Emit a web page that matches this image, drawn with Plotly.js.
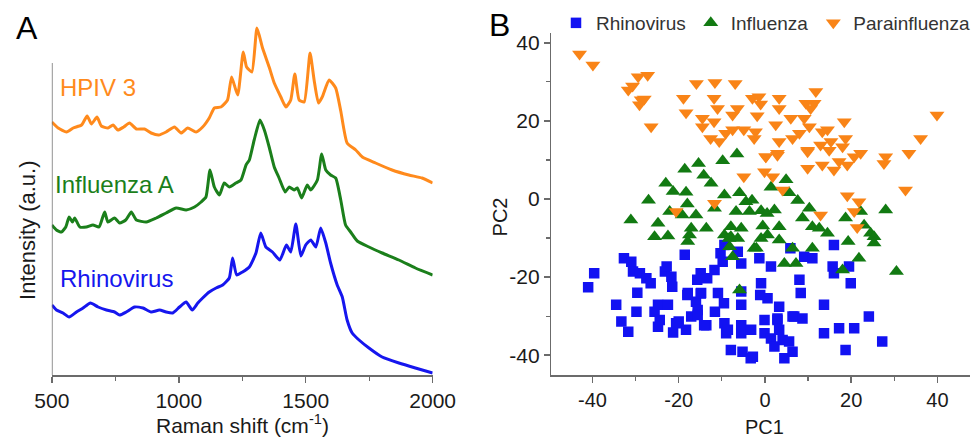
<!DOCTYPE html>
<html>
<head>
<meta charset="utf-8">
<script src="https://cdn.plot.ly/plotly-3.0.1.min.js"></script>
<style>html,body{margin:0;padding:0;background:#fff;}#chart{width:975px;height:438px;}</style>
</head>
<body>
<div id="chart"></div>
<script>
// ---------- Panel A: Raman spectra (stacked, arbitrary units) ----------
const hpivX = [500,525,558,584,617,639,656,678,695,721,741,760,783,806,833,865,891,921,950,983,1009,1035,1068,1094,1120,1140,1166,1192,1208,1232,1254,1267,1288,1308,1330,1356,1376,1402,1422,1441,1457,1474,1494,1517,1533,1550,1565,1592,1618,1638,1663,1697,1723,1775,1840,1906,1958,2000];
const hpivY = [253,247,243,247,250,259,251,258,249,247,250,245,248,252,246,246,242,240,243,248,242,247,243,248,257,267,268,275,298,280,323,308,303,347,327,308,292,278,268,275,301,275,273,322,295,272,278,295,287,264,232,225,218,212,205,200,197,192];

const fluX = [500,518,538,555,568,581,590,610,636,662,686,708,721,747,767,791,813,833,872,911,950,990,1029,1062,1088,1107,1123,1140,1160,1179,1199,1225,1245,1265,1278,1297,1320,1337,1356,1376,1395,1419,1435,1454,1467,1484,1506,1520,1546,1563,1579,1598,1618,1638,1657,1677,1703,1749,1801,1867,1932,2000];
const fluY = [150,145,143,148,158,153,157,148,148,150,148,163,153,157,152,155,163,155,153,157,162,167,165,168,173,178,205,188,180,192,188,192,195,210,215,235,255,245,228,208,197,183,188,185,187,177,190,185,195,221,205,200,197,175,150,143,134,128,122,115,107,100];

const rhinoX = [500,518,544,568,597,623,652,682,715,747,767,793,826,859,891,924,950,976,1003,1029,1053,1075,1094,1120,1147,1173,1199,1212,1228,1251,1278,1304,1323,1343,1369,1398,1424,1441,1461,1481,1500,1520,1540,1559,1579,1598,1624,1644,1663,1683,1710,1749,1801,1867,1932,2000];
const rhinoY = [70,65,62,58,63,67,72,68,65,63,60,63,68,67,63,65,63,62,68,73,65,72,77,83,87,90,97,117,100,103,108,122,142,128,123,115,130,123,151,119,130,135,128,147,132,112,90,78,55,42,35,27,18,12,7,2];

const spectrumNames = ["HPIV 3", "Influenza A", "Rhinovirus"];
const ramanTicks = [500, 1000, 1500, 2000];

// ---------- Panel B: PCA scores ----------
const rhinoPC1 = [-41.0,-39.6,-34.5,-33.3,-31.7,-32.7,-31.0,-30.6,-29.6,-29.8,-29.0,-27.5,-26.5,-25.6,-24.8,-24.4,-24.8,-23.2,-22.8,-21.7,-21.5,-22.5,-21.3,-20.0,-18.6,-17.9,-18.3,-17.1,-16.0,-14.9,-14.8,-15.6,-15.6,-13.4,-13.6,-11.7,-11.6,-10.9,-10.3,-9.8,-9.5,-9.4,-9.0,-7.9,-6.3,-5.5,-5.5,-5.5,-5.5,-5.5,-5.2,-2.8,-3.2,-1.3,-0.9,-1.1,0.6,-0.1,-0.1,1.4,1.4,2.2,3.3,2.9,3.3,4.1,4.5,5.6,6.4,5.9,6.8,8.0,8.3,8.7,9.1,11.0,13.7,13.7,16.0,15.7,16.0,17.2,18.7,19.5,19.9,20.7,24.1,27.2,-9.4,-18.0,-14.9,-15.7,-20.6,-14.1,-8.6,-3.3,2.9,6.4];
const rhinoPC2 = [-22.6,-19.0,-27.1,-31.4,-34.0,-15.2,-16.1,-18.6,-24.0,-28.9,-19.0,-20.3,-21.6,-28.9,-27.1,-31.0,-32.7,-18.6,-17.3,-19.9,-22.5,-27.1,-34.2,-31.4,-14.3,-24.1,-33.5,-30.1,-26.3,-19.0,-24.1,-28.4,-29.7,-20.3,-32.3,-18.2,-28.9,-24.1,-13.9,-16.1,-26.7,-31.8,-34.4,-38.7,-13.5,-16.5,-23.7,-27.1,-32.3,-34.4,-39.1,-40.4,-33.5,-15.2,-21.6,-24.6,-25.4,-31.0,-34.4,-17.3,-35.7,-37.8,-27.6,-31.0,-33.5,-36.1,-40.8,-36.5,-39.1,-12.6,-30.1,-20.7,-24.1,-30.6,-14.8,-15.2,-27.1,-34.4,-11.8,-17.3,-19.0,-33.1,-38.7,-17.3,-21.6,-33.1,-30.1,-36.5,-11.8,-24.6,-24.2,-20.7,-31.8,-32.3,-33.5,-40.8,-30.6,-30.1];

const fluPC1 = [-6.5,-9.8,-15.4,-18.6,-14.2,-12.5,-23.0,-21.3,-18.3,-9.4,-5.9,-27.0,-4.4,-3.0,-18.0,-22.1,-19.2,-16.0,-11.7,-6.7,-3.6,-0.9,0.5,2.2,1.4,4.9,5.6,7.6,10.3,8.7,11.0,12.6,14.5,18.7,22.2,28.0,23.0,24.5,25.3,25.3,19.3,21.8,30.5,18.0,11.0,6.4,7.2,4.5,3.3,3.3,0.6,-0.5,-0.9,-2.5,-5.5,-7.9,-7.9,-9.4,-8.2,-7.5,-5.9,-17.1,-17.5,-17.9,-13.6,-24.8,-25.6,-22.5,-31.1,-8.3,-6.3,-2.0];
const fluPC2 = [11.5,9.8,9.1,7.6,6.1,4.0,4.0,1.9,1.7,1.0,1.6,-0.3,-0.7,-0.3,-1.3,-3.2,-4.1,-4.1,-2.4,-3.2,-3.2,-3.0,-3.7,-2.8,3.0,4.9,1.6,-0.4,-2.4,-4.9,-7.1,-7.5,-8.8,-4.9,-3.2,-2.8,-6.7,-8.8,-9.7,-11.3,-10.9,-15.2,-18.6,-18.2,-12.6,-12.6,-16.5,-16.5,-10.5,-7.1,-9.2,-6.9,-10.1,-12.6,-7.5,-7.1,-9.7,-9.2,-12.2,-14.8,-23.3,-7.5,-9.2,-10.9,-7.5,-6.2,-9.7,-9.5,-5.4,-10.1,-10.1,-12.6];

const paraPC1 = [-43.0,-39.9,-31.7,-30.7,-29.4,-27.2,-28.7,-28.0,-29.1,-26.4,-15.9,-11.6,-6.9,-18.9,-18.3,-14.5,-11.8,-11.0,-11.8,-14.5,-7.5,-6.4,-12.6,-10.6,-9.1,-7.5,-4.9,-2.2,-2.5,-2.9,-1.4,-1.0,-1.8,-4.9,-11.7,-20.6,11.8,11.4,9.5,10.6,3.3,3.3,6.0,9.1,10.3,2.5,18.4,14.5,13.3,8.0,6.4,3.3,18.7,18.0,15.3,12.9,14.9,9.9,2.9,0.2,22.2,20.7,19.1,17.2,16.0,13.3,9.9,28.0,27.6,33.4,36.1,39.9,32.6,19.1,21.8,-0.1,1.8,4.1,12.9,20.7,21.4,9.9,0.2,2.9];
const paraPC2 = [37.1,34.3,27.9,28.9,31.3,31.7,25.4,25.6,24.1,18.5,29.6,29.8,29.6,25.8,22.1,20.7,25.8,23.2,19.8,18.5,21.5,23.2,15.5,14.7,16.8,17.7,17.7,17.2,15.5,25.8,26.2,24.3,21.3,5.7,-1.1,-3.2,27.5,24.5,24.5,23.2,25.8,23.2,20.7,20.7,18.5,19.0,19.8,17.7,17.2,16.8,15.5,14.7,15.5,13.4,14.7,13.8,12.5,12.5,11.7,10.8,11.7,10.8,8.7,9.6,7.4,8.7,7.9,10.8,9.1,11.7,15.5,21.5,2.3,0.85,-0.7,7.0,5.7,2.3,-4.1,-3.2,-7.3,12.1,10.8,11.2];

const groupNames = ["Rhinovirus", "Influenza", "Parainfluenza"];
const pcTicks = [-40, -20, 0, 20, 40];
const pcTickLabels = ["-40", "-20", "0", "20", "40"];

// ---------- styling ----------
const FONT = "Liberation Sans, Arial, sans-serif";
const cOrange = "#FF8A1C", cGreen = "#1B7F1B", cBlue = "#1616EE";
const mBlue = "#1212F2", mGreen = "#127A12", mOrange = "#F98417";
const axisGray = "#6b6b6b";

const lineStyle = c => ({color: c, width: 3, shape: "spline", smoothing: 0.5});

const traces = [
  {x: hpivX, y: hpivY, type: "scatter", mode: "lines", name: spectrumNames[0], line: lineStyle(cOrange), xaxis: "x", yaxis: "y", showlegend: false},
  {x: fluX, y: fluY, type: "scatter", mode: "lines", name: spectrumNames[1], line: lineStyle(cGreen), xaxis: "x", yaxis: "y", showlegend: false},
  {x: rhinoX, y: rhinoY, type: "scatter", mode: "lines", name: spectrumNames[2], line: lineStyle(cBlue), xaxis: "x", yaxis: "y", showlegend: false},
  {x: rhinoPC1, y: rhinoPC2, type: "scatter", mode: "markers", name: groupNames[0], marker: {symbol: "square", size: 10.5, color: mBlue}, xaxis: "x2", yaxis: "y2"},
  {x: fluPC1, y: fluPC2, type: "scatter", mode: "markers", name: groupNames[1], marker: {symbol: "triangle-up", size: 13, color: mGreen}, xaxis: "x2", yaxis: "y2"},
  {x: paraPC1, y: paraPC2, type: "scatter", mode: "markers", name: groupNames[2], marker: {symbol: "triangle-down", size: 13, color: mOrange}, xaxis: "x2", yaxis: "y2"}
];

const W = 975, H = 438;
const px = v => v / W, py = v => 1 - v / H;

const layout = {
  width: W, height: H,
  margin: {l: 0, r: 0, t: 0, b: 0},
  paper_bgcolor: "#fff", plot_bgcolor: "rgba(0,0,0,0)",
  font: {family: FONT, color: "#1a1a1a"},
  showlegend: true,
  legend: {
    orientation: "h", x: px(558), xanchor: "left", y: py(23), yanchor: "middle",
    font: {family: FONT, size: 19, color: "#333"}, itemwidth: 30, tracegroupgap: 0,
    bgcolor: "rgba(0,0,0,0)"
  },
  xaxis: {
    domain: [px(52), px(434)], range: [500, 2000], anchor: "y",
    showline: true, linecolor: axisGray, linewidth: 1.5, mirror: false,
    showgrid: false, zeroline: false,
    ticks: "outside", ticklen: 6, tickwidth: 1.5, tickcolor: axisGray,
    tickvals: ramanTicks, tickfont: {family: FONT, size: 21, color: "#1a1a1a"},
    minor: {ticks: "outside", ticklen: 4, tickwidth: 1.2, tickcolor: axisGray, dtick: 250, tick0: 500, showgrid: false}
  },
  yaxis: {
    domain: [py(375), py(20)], range: [0, 355], anchor: "x",
    showline: false, showgrid: false, zeroline: false, showticklabels: false, ticks: ""
  },
  xaxis2: {
    domain: [px(553), px(973)], range: [-49.55, 47.56], anchor: "y2",
    showline: true, linecolor: axisGray, linewidth: 1.5,
    showgrid: false, zeroline: false,
    ticks: "outside", ticklen: 6, tickwidth: 1.5, tickcolor: axisGray,
    tickvals: pcTicks, ticktext: pcTickLabels, tickfont: {family: FONT, size: 20, color: "#1a1a1a"},
    minor: {ticks: "outside", ticklen: 4, tickwidth: 1.2, tickcolor: axisGray, dtick: 10, tick0: 0, showgrid: false}
  },
  yaxis2: {
    domain: [py(375), py(33)], range: [-45.07, 42.5], anchor: "x2",
    showline: true, linecolor: axisGray, linewidth: 1.5,
    showgrid: false, zeroline: false,
    ticks: "outside", ticklen: 6, tickwidth: 1.5, tickcolor: axisGray,
    tickvals: pcTicks, ticktext: pcTickLabels, tickfont: {family: FONT, size: 21, color: "#1a1a1a"},
    minor: {ticks: "outside", ticklen: 4, tickwidth: 1.2, tickcolor: axisGray, dtick: 10, tick0: 0, showgrid: false}
  },
  shapes: [
    // y axis line of panel A (shorter than the plotting area, as in the original)
    {type: "line", xref: "x", yref: "y", x0: 500, x1: 500, y0: 0, y1: 312, line: {color: axisGray, width: 1.5}, layer: "above"}
  ],
  annotations: [
    {text: "A", xref: "paper", yref: "paper", x: px(27), y: py(28), xanchor: "center", yanchor: "middle", showarrow: false, font: {family: FONT, size: 32, color: "#000"}},
    {text: "B", xref: "paper", yref: "paper", x: px(501), y: py(25), xanchor: "center", yanchor: "middle", showarrow: false, font: {family: FONT, size: 32, color: "#000"}},
    {text: spectrumNames[0], xref: "paper", yref: "paper", x: px(58), y: py(87), xanchor: "left", yanchor: "middle", showarrow: false, font: {family: FONT, size: 24, color: cOrange}},
    {text: spectrumNames[1], xref: "paper", yref: "paper", x: px(53), y: py(184), xanchor: "left", yanchor: "middle", showarrow: false, font: {family: FONT, size: 24, color: cGreen}},
    {text: spectrumNames[2], xref: "paper", yref: "paper", x: px(58), y: py(278), xanchor: "left", yanchor: "middle", showarrow: false, font: {family: FONT, size: 24, color: cBlue}},
    {text: "Raman shift (cm<sup>-1</sup>)", xref: "paper", yref: "paper", x: px(243), y: py(424), xanchor: "center", yanchor: "middle", showarrow: false, font: {family: FONT, size: 21, color: "#1a1a1a"}},
    {text: "Intensity (a.u.)", xref: "paper", yref: "paper", x: px(27), y: py(230), xanchor: "center", yanchor: "middle", textangle: -90, showarrow: false, font: {family: FONT, size: 22, color: "#1a1a1a"}},
    {text: "PC1", xref: "paper", yref: "paper", x: px(767), y: py(427), xanchor: "center", yanchor: "middle", showarrow: false, font: {family: FONT, size: 20, color: "#1a1a1a"}},
    {text: "PC2", xref: "paper", yref: "paper", x: px(502), y: py(217), xanchor: "center", yanchor: "middle", textangle: -90, showarrow: false, font: {family: FONT, size: 20, color: "#1a1a1a"}}
  ]
};

Plotly.newPlot("chart", traces, layout, {displayModeBar: false, staticPlot: true});
</script>
</body>
</html>
